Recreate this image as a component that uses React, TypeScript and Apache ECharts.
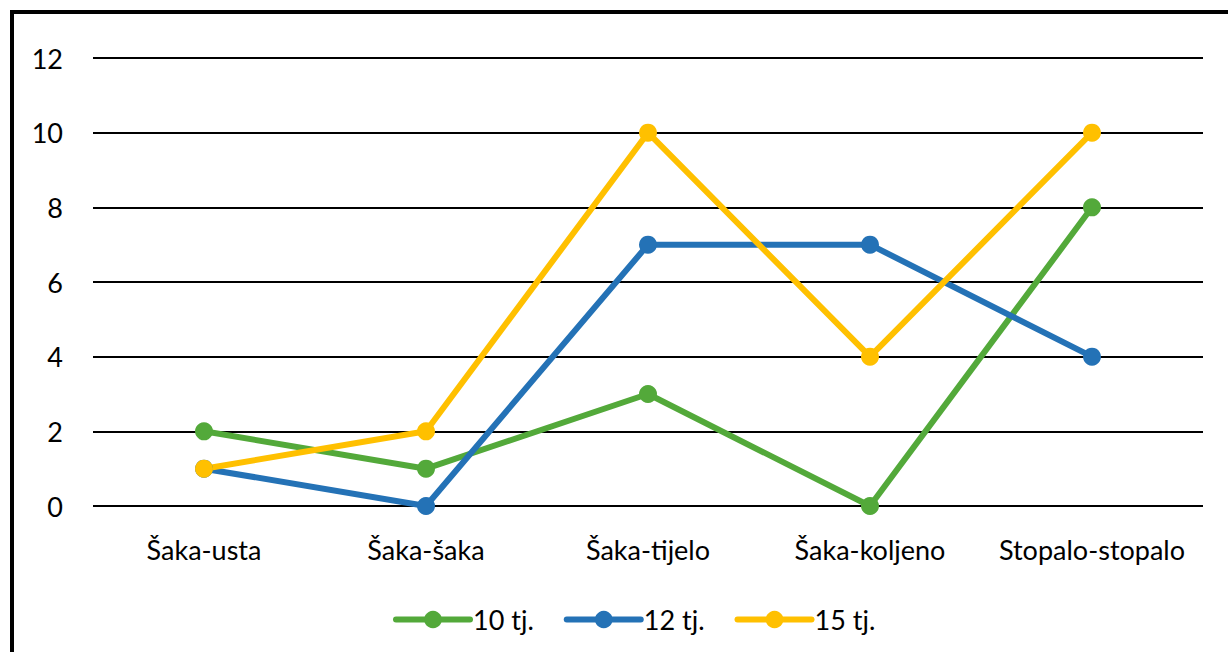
import React, { useEffect, useRef } from "react";
import * as echarts from "echarts";

const categories = ["Šaka-usta", "Šaka-šaka", "Šaka-tijelo", "Šaka-koljeno", "Stopalo-stopalo"];
const seriesNames = ["10 tj.", "12 tj.", "15 tj."];
const values10 = [2, 1, 3, 0, 8];
const values12 = [1, 0, 7, 7, 4];
const values15 = [1, 2, 10, 4, 10];
const colors = ["#53A93A", "#2472B6", "#FFC000"];

const FONT = "Lato, 'Liberation Sans', Arial, sans-serif";
const FS = 27;

export default function App() {
  const ref = useRef<HTMLDivElement>(null);
  useEffect(() => {
    if (!ref.current) return;
    const chart = echarts.init(ref.current, undefined, { renderer: "svg" });
    const data = [values10, values12, values15];
    chart.setOption({
      animation: false,
      backgroundColor: "#ffffff",
      textStyle: { fontFamily: FONT },
      graphic: [
        {
          type: "rect",
          shape: { x: 12, y: 12, width: 1240, height: 680 },
          style: { fill: "none", stroke: "#000", lineWidth: 4 },
          silent: true,
        },
      ],
      grid: { left: 93, right: 25, top: 58, bottom: 146, containLabel: false },
      legend: {
        bottom: 14,
        left: 388,
        itemWidth: 74,
        itemHeight: 22,
        itemGap: 30,
        lineStyle: { width: 6, cap: "round" },
        textStyle: { fontSize: FS, color: "#000", fontFamily: FONT, padding: [0, 0, 0, -2] },
        data: seriesNames,
      },
      xAxis: {
        type: "category",
        data: categories,
        boundaryGap: true,
        axisLine: { show: false },
        axisTick: { show: false },
        axisLabel: { fontSize: FS, color: "#000", margin: 30, fontFamily: FONT, interval: 0 },
      },
      yAxis: {
        type: "value",
        min: 0,
        max: 12,
        interval: 2,
        axisLine: { show: false },
        axisTick: { show: false },
        axisLabel: { fontSize: FS, color: "#000", margin: 30, fontFamily: FONT },
        splitLine: { lineStyle: { color: "#000", width: 2 } },
      },
      series: seriesNames.map((name, i) => ({
        name,
        type: "line",
        data: data[i],
        symbol: "circle",
        symbolSize: 18,
        lineStyle: { width: 6, color: colors[i], cap: "round", join: "round" },
        itemStyle: { color: colors[i] },
      })),
    });
    return () => chart.dispose();
  }, []);
  return (
    <div
      ref={ref}
      style={{ position: "fixed", left: 0, top: 0, width: 1228, height: 652 }}
    />
  );
}
